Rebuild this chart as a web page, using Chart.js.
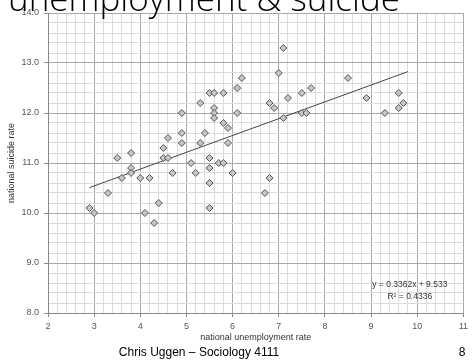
<!DOCTYPE html>
<html>
<head>
<meta charset="utf-8">
<script src="https://cdn.jsdelivr.net/npm/chart.js@4/dist/chart.umd.min.js"></script>
<style>
  html, body { margin: 0; padding: 0; background: #fff; overflow: hidden; }
</style>
</head>
<body>
<canvas id="chart" width="472" height="364"></canvas>
<script>
// national unemployment rate vs national suicide rate, one point per year
const unemployment = [
  2.9, 3.0, 3.3, 3.5, 3.6, 3.8, 3.8, 3.8, 4.0, 4.1, 4.2, 4.3, 4.4,
  4.5, 4.5, 4.6, 4.6, 4.7, 4.9, 4.9, 4.9, 5.1, 5.2, 5.3, 5.3, 5.4,
  5.5, 5.5, 5.5, 5.5, 5.5, 5.5, 5.6, 5.6, 5.6, 5.6, 5.7, 5.8, 5.8,
  5.8, 5.9, 5.9, 6.0, 6.1, 6.1, 6.2, 6.7, 6.8, 6.8, 6.9, 7.0, 7.1,
  7.1, 7.2, 7.5, 7.5, 7.6, 7.7, 8.5, 8.9, 9.3, 9.6, 9.6, 9.7
];
const suicide = [
  10.1, 10.0, 10.4, 11.1, 10.7, 11.2, 10.9, 10.8, 10.7, 10.0, 10.7, 9.8, 10.2,
  11.3, 11.1, 11.5, 11.1, 10.8, 12.0, 11.6, 11.4, 11.0, 10.8, 12.2, 11.4, 11.6,
  12.4, 11.1, 10.9, 10.6, 10.6, 10.1, 12.4, 12.1, 12.0, 11.9, 11.0, 12.4, 11.8,
  11.0, 11.7, 11.4, 10.8, 12.5, 12.0, 12.7, 10.4, 12.2, 10.7, 12.1, 12.8, 13.3,
  11.9, 12.3, 12.4, 12.0, 12.0, 12.5, 12.7, 12.3, 12.0, 12.4, 12.1, 12.2
];

// linear fit as printed on the chart
const trendSlope = 0.3362;
const trendIntercept = 9.533;
const trendRange = [2.9, 9.8];
const trendLabels = ['y = 0.3362x + 9.533', 'R\u00b2 = 0.4336'];

const xRange = [2, 11];
const yRange = [8, 14];
const gridStep = 0.2;

const chartTitle = 'unemployment & suicide';
const footerText = 'Chris Uggen \u2013 Sociology 4111';
const pageNumber = '8';

const isWhole = v => Math.abs(v - Math.round(v)) < 1e-6;
const gridColor = c => (c.tick && isWhole(c.tick.value)) ? '#a9a9a9' : '#dcdcdc';
const tickMarkColor = c => (c.tick && isWhole(c.tick.value)) ? '#888' : 'rgba(0,0,0,0)';

const slideText = {
  id: 'slideText',
  afterDraw(chart) {
    const ctx = chart.ctx;
    const x = chart.scales.x;
    const y = chart.scales.y;
    ctx.save();

    // slide heading, partly above the top edge
    ctx.fillStyle = '#000';
    ctx.font = '300 35px "Open Sans"';
    ctx.textAlign = 'left';
    ctx.textBaseline = 'alphabetic';
    ctx.fillText(chartTitle, 8, 11);

    // regression equation
    ctx.fillStyle = '#333';
    ctx.font = '8.5px "Liberation Sans"';
    ctx.textAlign = 'center';
    ctx.textBaseline = 'middle';
    const ex = x.getPixelForValue(9.84);
    ctx.fillText(trendLabels[0], ex, y.getPixelForValue(8.566));
    ctx.fillText(trendLabels[1], ex, y.getPixelForValue(8.326));

    // footer
    ctx.fillStyle = '#000';
    ctx.font = '12px "Liberation Sans"';
    ctx.textBaseline = 'alphabetic';
    ctx.fillText(footerText, 199, 356);
    ctx.fillText(pageNumber, 462, 356);
    ctx.restore();
  }
};

const ctx = document.getElementById('chart').getContext('2d');

new Chart(ctx, {
  type: 'scatter',
  data: {
    datasets: [
      {
        data: unemployment.map((u, i) => ({ x: u, y: suicide[i] })),
        pointStyle: 'rectRot',
        radius: 3.5,
        backgroundColor: '#c6c6c6',
        borderColor: '#555',
        borderWidth: 1
      },
      {
        type: 'line',
        data: trendRange.map(u => ({ x: u, y: trendSlope * u + trendIntercept })),
        borderColor: '#444',
        borderWidth: 1,
        pointRadius: 0,
        fill: false
      }
    ]
  },
  options: {
    responsive: false,
    animation: false,
    devicePixelRatio: 1,
    layout: { padding: { top: 13, right: 4, bottom: 19, left: 0 } },
    plugins: {
      legend: { display: false },
      tooltip: { enabled: false }
    },
    scales: {
      x: {
        type: 'linear',
        min: xRange[0],
        max: xRange[1],
        afterFit: s => { s.height = 32; },
        ticks: {
          stepSize: gridStep,
          autoSkip: false,
          maxRotation: 0,
          padding: 4,
          color: '#555',
          font: { family: 'Liberation Sans', size: 9 },
          callback: v => isWhole(v) ? String(Math.round(v)) : ''
        },
        grid: { color: gridColor, tickColor: tickMarkColor, tickLength: 4 },
        border: { color: '#888' },
        title: {
          display: true,
          text: 'national unemployment rate',
          color: '#333',
          font: { family: 'Liberation Sans', size: 9 },
          padding: { top: 0, bottom: 1.6 }
        }
      },
      y: {
        min: yRange[0],
        max: yRange[1],
        afterFit: s => { s.width = 48; },
        ticks: {
          stepSize: gridStep,
          autoSkip: false,
          padding: 5,
          color: '#555',
          font: { family: 'Liberation Sans', size: 9 },
          callback: v => isWhole(v) ? v.toFixed(1) : ''
        },
        grid: { color: gridColor, tickColor: tickMarkColor, tickLength: 4 },
        border: { color: '#888' },
        title: {
          display: true,
          text: 'national suicide rate',
          color: '#333',
          font: { family: 'Liberation Sans', size: 9 },
          padding: { top: 6.6, bottom: 0 }
        }
      }
    }
  },
  plugins: [slideText]
});
</script>
</body>
</html>
